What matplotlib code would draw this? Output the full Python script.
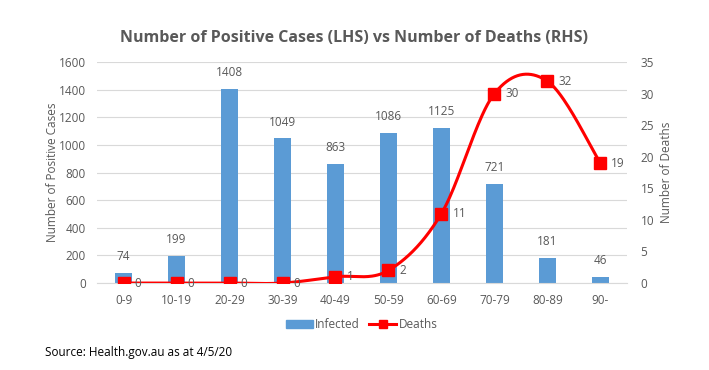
import numpy as np
import matplotlib
matplotlib.use('Agg')
import matplotlib.pyplot as plt
from matplotlib.lines import Line2D
from matplotlib.patches import Patch

plt.rcParams['font.family'] = ['Open Sans', 'DejaVu Sans']

ages = ['0-9', '10-19', '20-29', '30-39', '40-49', '50-59', '60-69', '70-79', '80-89', '90-']
infected = [74, 199, 1408, 1049, 863, 1086, 1125, 721, 181, 46]
deaths = [0, 0, 0, 0, 1, 2, 11, 30, 32, 19]

GREY = '#595959'
BLUE = '#5B9BD5'
RED = '#FF0000'


def smooth(xs, ys, n=40):
    # Excel-style smoothed line (Catmull-Rom / Bezier)
    xs = np.asarray(xs, float)
    ys = np.asarray(ys, float)
    px = np.concatenate([[xs[0]], xs, [xs[-1]]])
    py = np.concatenate([[ys[0]], ys, [ys[-1]]])
    outx, outy = [], []
    t = np.linspace(0, 1, n)
    for i in range(1, len(px) - 2):
        p0 = np.array([px[i], py[i]])
        p3 = np.array([px[i + 1], py[i + 1]])
        c1 = p0 + (p3 - np.array([px[i - 1], py[i - 1]])) / 6
        c2 = p3 - (np.array([px[i + 2], py[i + 2]]) - p0) / 6
        pts = ((1 - t) ** 3)[:, None] * p0 + (3 * (1 - t) ** 2 * t)[:, None] * c1 \
            + (3 * (1 - t) * t ** 2)[:, None] * c2 + (t ** 3)[:, None] * p3
        outx.extend(pts[:, 0])
        outy.extend(pts[:, 1])
    return outx, outy


fig = plt.figure(figsize=(7.09, 3.70), dpi=100)
ax = fig.add_axes([0.137, 0.235, 0.747, 0.597])
x = np.arange(len(ages))

ax.bar(x, infected, width=0.33, color=BLUE, zorder=2)
for xi, v in zip(x, infected):
    ax.annotate(str(v), (xi, v), xytext=(0, 7), textcoords='offset points',
                ha='center', va='bottom', fontsize=8.5, color=GREY)

ax.set_ylim(0, 1600)
ax.set_yticks(range(0, 1601, 200))
ax.set_xlim(-0.5, len(ages) - 0.5)
ax.set_xticks(x)
ax.set_xticklabels(ages)
ax.grid(axis='y', color='#D9D9D9', linewidth=0.8, zorder=0)
ax.set_axisbelow(True)
ax.set_ylabel('Number of Positive Cases', fontsize=8.5, color=GREY, labelpad=0)
for s in ['top', 'left', 'right']:
    ax.spines[s].set_visible(False)
ax.spines['bottom'].set_color('#D9D9D9')
ax.tick_params(length=0, labelsize=8.5, colors=GREY, pad=8)

ax2 = ax.twinx()
sx, sy = smooth(x, deaths)
ax2.plot(sx, sy, color=RED, linewidth=2.2, zorder=3)
ax2.plot(x, deaths, 's', color=RED, markersize=8, zorder=4)
for xi, v in zip(x, deaths):
    ax2.annotate(str(v), (xi, v), xytext=(8, 0), textcoords='offset points',
                 ha='left', va='center', fontsize=8.5, color=GREY)
ax2.set_ylim(0, 35)
ax2.set_yticks(range(0, 36, 5))
ax2.set_ylabel('Number of Deaths', fontsize=8.5, color=GREY)
for s in ['top', 'left', 'right', 'bottom']:
    ax2.spines[s].set_visible(False)
ax2.tick_params(length=0, labelsize=8.5, colors=GREY, pad=10)

fig.text(0.5, 0.897, 'Number of Positive Cases (LHS) vs Number of Deaths (RHS)',
         ha='center', va='center', fontsize=11.5, fontweight='bold', color=GREY)

handles = [Patch(color=BLUE, label='Infected'),
           Line2D([], [], color=RED, linewidth=2.2, marker='s', markersize=6, label='Deaths')]
fig.legend(handles=handles, loc='center', bbox_to_anchor=(0.51, 0.122), ncol=2,
           frameon=False, fontsize=8.5, labelcolor=GREY, handlelength=2.3,
           handletextpad=0.2, columnspacing=0.8)

fig.text(0.063, 0.048, 'Source: Health.gov.au as at 4/5/20', fontsize=8.5, color='black',
         ha='left', va='center')

fig.savefig('out.png', dpi=100)
